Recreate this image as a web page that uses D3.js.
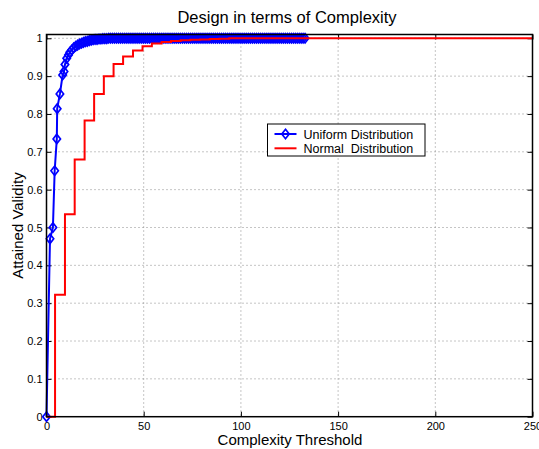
<!DOCTYPE html>
<html>
<head>
<meta charset="utf-8">
<script src="https://cdn.jsdelivr.net/npm/d3@7/dist/d3.min.js"></script>
<style>
  body { margin: 0; background: #fff; }
  text { font-family: "Liberation Sans", Arial, Helvetica, sans-serif; fill: #000; }
</style>
</head>
<body>
<div class="chart"></div>
<script>
// tick labels
let xTicks = [0, 50, 100, 150, 200, 250];
let yTicks = [0, 0.1, 0.2, 0.3, 0.4, 0.5, 0.6, 0.7, 0.8, 0.9, 1];
let yTickLabels = ["0", "0.1", "0.2", "0.3", "0.4", "0.5", "0.6", "0.7", "0.8", "0.9", "1"];

// Uniform Distribution (markers)
let uniformX = [0, 1.8, 3.3, 4.2, 5.3, 5.5, 6.9, 8.3, 9.0, 9.5, 10.4, 11.3,
  12, 13, 14, 15, 16, 17, 18, 19, 20, 21, 22, 23, 24, 25, 26, 27, 28, 29, 30,
  31, 32, 33, 34, 35, 36, 37, 38, 39, 40, 41, 42, 43, 44, 45, 46, 47, 48, 49, 50,
  51, 52, 53, 54, 55, 56, 57, 58, 59, 60, 61, 62, 63, 64, 65, 66, 67, 68, 69, 70,
  71, 72, 73, 74, 75, 76, 77, 78, 79, 80, 81, 82, 83, 84, 85, 86, 87, 88, 89, 90,
  91, 92, 93, 94, 95, 96, 97, 98, 99, 100, 101, 102, 103, 104, 105, 106, 107, 108, 109, 110,
  111, 112, 113, 114, 115, 116, 117, 118, 119, 120, 121, 122, 123, 124, 125, 126, 127, 128, 129, 130,
  131, 132, 133];
let uniformY = [0, 0.47, 0.50, 0.65, 0.734, 0.814, 0.853, 0.903, 0.912, 0.931, 0.947, 0.956,
  0.963, 0.969, 0.975, 0.979, 0.982, 0.985, 0.987, 0.989, 0.991, 0.992, 0.994, 0.995, 0.996, 0.997, 0.997, 0.998, 0.998, 0.999, 0.999,
  0.999, 1, 1, 1, 1, 1, 1, 1, 1, 1, 1, 1, 1, 1, 1, 1, 1, 1, 1, 1,
  1, 1, 1, 1, 1, 1, 1, 1, 1, 1, 1, 1, 1, 1, 1, 1, 1, 1, 1, 1,
  1, 1, 1, 1, 1, 1, 1, 1, 1, 1, 1, 1, 1, 1, 1, 1, 1, 1, 1, 1,
  1, 1, 1, 1, 1, 1, 1, 1, 1, 1, 1, 1, 1, 1, 1, 1, 1, 1, 1, 1,
  1, 1, 1, 1, 1, 1, 1, 1, 1, 1, 1, 1, 1, 1, 1, 1, 1, 1, 1, 1,
  1, 1, 1];

// Normal Distribution (stairs)
let normalX = [0, 4.4, 9.5, 14.5, 19.6, 24.5, 29.5, 34.5, 39.4, 44.5, 49.4, 54.2, 59.2,
  64, 69, 74, 79, 84, 89, 94, 250];
let normalY = [0, 0.322, 0.535, 0.68, 0.783, 0.853, 0.9, 0.932, 0.952, 0.968, 0.979, 0.986, 0.99,
  0.993, 0.995, 0.996, 0.997, 0.998, 0.999, 1, 1];

let width = 539, height = 449;
let margin = {top: 34.5, right: 6.5, bottom: 32.3, left: 46.5};
let w = width - margin.left - margin.right;
let h = height - margin.top - margin.bottom;

let svg = d3.select(".chart")
  .append("svg")
  .attr("width", width)
  .attr("height", height);

let g = svg.append("g")
  .attr("transform", "translate(" + margin.left + "," + margin.top + ")");

let x = d3.scaleLinear().domain([0, 250]).range([0, w]);
let y = d3.scaleLinear().domain([0, 1.01]).range([h, 0]);

// grid
g.selectAll(".gx").data(xTicks.slice(1, -1)).enter().append("line")
  .attr("x1", d => x(d)).attr("x2", d => x(d))
  .attr("y1", 0).attr("y2", h)
  .attr("stroke", "#8a8a8a").attr("stroke-width", 1)
  .attr("stroke-dasharray", "1,3");
g.selectAll(".gy").data(yTicks.slice(1)).enter().append("line")
  .attr("x1", 0).attr("x2", w)
  .attr("y1", d => y(d)).attr("y2", d => y(d))
  .attr("stroke", "#8a8a8a").attr("stroke-width", 1)
  .attr("stroke-dasharray", "1,3");

// axes
let xAxis = g.append("g")
  .attr("transform", "translate(0," + h + ")")
  .call(d3.axisBottom(x).tickValues(xTicks).tickSizeInner(-5).tickSizeOuter(0).tickPadding(5.5));
let xTop = g.append("g")
  .call(d3.axisTop(x).tickValues(xTicks).tickSizeInner(-5).tickSizeOuter(0).tickFormat(""));
let yAxis = g.append("g")
  .call(d3.axisLeft(y).tickValues(yTicks).tickSizeInner(-5).tickSizeOuter(0).tickPadding(4)
    .tickFormat((d, i) => yTickLabels[i]));
let yRight = g.append("g")
  .attr("transform", "translate(" + w + ",0)")
  .call(d3.axisRight(y).tickValues(yTicks).tickSizeInner(-5).tickSizeOuter(0).tickFormat(""));

[xAxis, xTop, yAxis, yRight].forEach(a => {
  a.select(".domain").remove();
  a.selectAll(".tick line").attr("stroke", "#000").attr("stroke-width", 1);
  a.selectAll("text").attr("font-size", 11);
});

// series
let uniform = uniformX.map((d, i) => ({x: d, y: uniformY[i]}));
let normal = normalX.map((d, i) => ({x: d, y: normalY[i]}));

let line = d3.line().x(d => x(d.x)).y(d => y(d.y));
let stairs = d3.line().x(d => x(d.x)).y(d => y(d.y)).curve(d3.curveStepAfter);

let diamond = "M0,-4.7L3.7,0L0,4.7L-3.7,0Z";

g.append("path")
  .datum(uniform)
  .attr("d", line)
  .attr("fill", "none")
  .attr("stroke", "#0000ff")
  .attr("stroke-width", 2);

g.selectAll(".marker")
  .data(uniform)
  .enter().append("path")
  .attr("class", "marker")
  .attr("d", diamond)
  .attr("transform", d => "translate(" + x(d.x) + "," + y(d.y) + ")")
  .attr("fill", "none")
  .attr("stroke", "#0000ff")
  .attr("stroke-width", 1.7);

g.append("path")
  .datum(normal)
  .attr("d", stairs)
  .attr("fill", "none")
  .attr("stroke", "#ff0000")
  .attr("stroke-width", 2);

// frame
g.append("rect")
  .attr("width", w).attr("height", h)
  .attr("fill", "none")
  .attr("stroke", "#000")
  .attr("stroke-width", 1.5);

// legend
let legend = svg.append("g").attr("transform", "translate(267.5,124)");
legend.append("rect")
  .attr("width", 157.5).attr("height", 32)
  .attr("fill", "#fff").attr("stroke", "#000").attr("stroke-width", 1);
legend.append("line")
  .attr("x1", 7).attr("x2", 29).attr("y1", 10).attr("y2", 10)
  .attr("stroke", "#0000ff").attr("stroke-width", 2);
legend.append("path")
  .attr("d", diamond)
  .attr("transform", "translate(18,10)")
  .attr("fill", "none").attr("stroke", "#0000ff").attr("stroke-width", 1.7);
legend.append("text")
  .attr("x", 36).attr("y", 14.5)
  .attr("font-size", 12.5)
  .text("Uniform Distribution");
legend.append("line")
  .attr("x1", 7).attr("x2", 29).attr("y1", 24.3).attr("y2", 24.3)
  .attr("stroke", "#ff0000").attr("stroke-width", 2);
legend.append("text")
  .attr("x", 36).attr("y", 28.8)
  .attr("font-size", 12.5)
  .style("white-space", "pre")
  .text("Normal  Distribution");

// titles
svg.append("text")
  .attr("x", 287).attr("y", 23)
  .attr("text-anchor", "middle")
  .attr("font-size", 16.5)
  .text("Design in terms of Complexity");

svg.append("text")
  .attr("x", 290).attr("y", 445)
  .attr("text-anchor", "middle")
  .attr("font-size", 15)
  .text("Complexity Threshold");

svg.append("text")
  .attr("transform", "translate(23," + (margin.top + h / 2) + ") rotate(-90)")
  .attr("text-anchor", "middle")
  .attr("font-size", 15)
  .text("Attained Validity");
</script>
</body>
</html>
